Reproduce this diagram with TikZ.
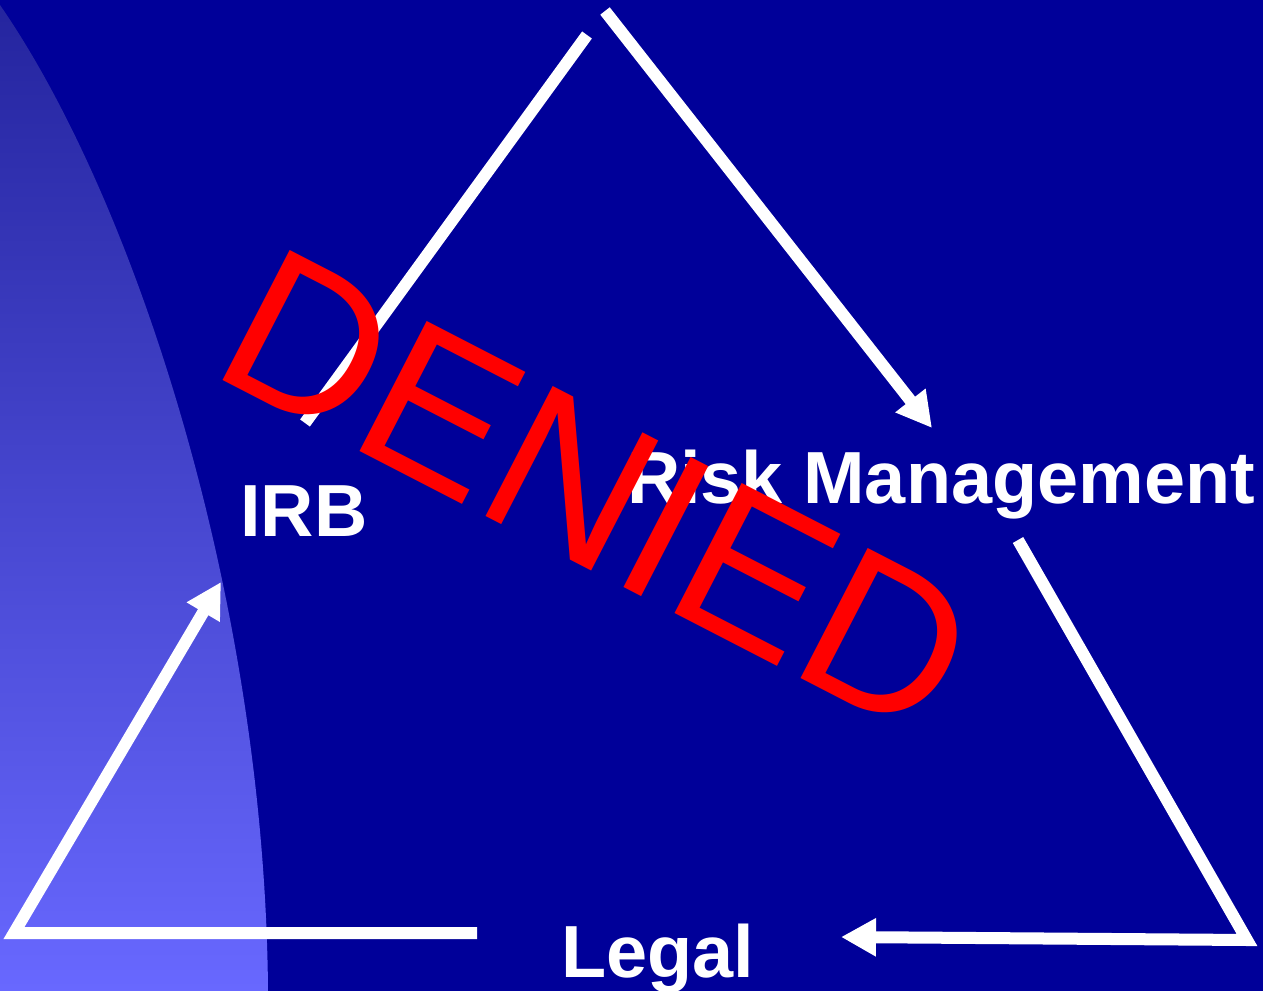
\documentclass[tikz,border=0pt]{standalone}
\usepackage{fontspec}
\setmainfont{Liberation Sans}
\usetikzlibrary{arrows.meta}
\definecolor{slideblue}{RGB}{0,0,153}
\definecolor{glowtop}{RGB}{36,36,158}
\definecolor{glowbottom}{RGB}{104,104,255}
\definecolor{stampred}{RGB}{255,0,0}

\begin{document}
\begin{tikzpicture}[
	x=0.01cm, y=-0.01cm,
	place/.style={text=white, font=\fontsize{21}{25}\selectfont\bfseries, inner sep=0pt, anchor=base},
	stamp/.style={text=stampred, font=\fontsize{60.5}{70}\selectfont, inner sep=0pt, anchor=base, rotate=-27.3},
	flow/.style={draw=white, line width=0.12cm},
	>={Triangle[length=0.35cm, width=0.36cm]}
	]
	
	%-----------------------
	% Slide background and left glow
	%-----------------------
	\useasboundingbox (0,0) rectangle (1263,991);
	\fill[slideblue] (0,0) rectangle (1263,991);
	\begin{scope}
		\clip (0,5) .. controls (135,200) and (265,600) .. (268,991) -- (0,991) -- cycle;
		\shade[top color=glowtop, bottom color=glowbottom] (0,0) rectangle (300,991);
	\end{scope}
	
	%-----------------------
	% Labels
	%-----------------------
	\node[place] (IRB)   at (304,536) {IRB};
	\node[place] (RM)    at (941,503) {Risk Management};
	\node[place] (Legal) at (658,977) {Legal};
	
	%-----------------------
	% Free ends of the cycle
	%-----------------------
	\coordinate (irbfoot)  at (305,423);
	\coordinate (apexL)    at (587,35);
	\coordinate (apexR)    at (605,11);
	\coordinate (rmin)     at (932,428);
	\coordinate (rmout)    at (1018,540);
	\coordinate (cornerR)  at (1247,940);
	\coordinate (legalin)  at (841,937);
	\coordinate (legalout) at (477,933);
	\coordinate (cornerL)  at (14,933);
	\coordinate (irbin)    at (221,582);
	
	%-----------------------
	% Connections
	%-----------------------
	% IRB -> Risk Management (over the top)
	\draw[flow] (irbfoot) -- (apexL);
	\draw[flow,->] (apexR) -- (rmin);
	
	% Risk Management -> Legal
	\draw[flow,->] (rmout) -- (cornerR) -- (legalin);
	
	% Legal -> IRB
	\draw[flow,->] (legalout) -- (cornerL) -- (irbin);
	
	%-----------------------
	% Stamp
	%-----------------------
	\node[stamp] (denied) at (565,557) {DENIED};
	
\end{tikzpicture}
\end{document}
